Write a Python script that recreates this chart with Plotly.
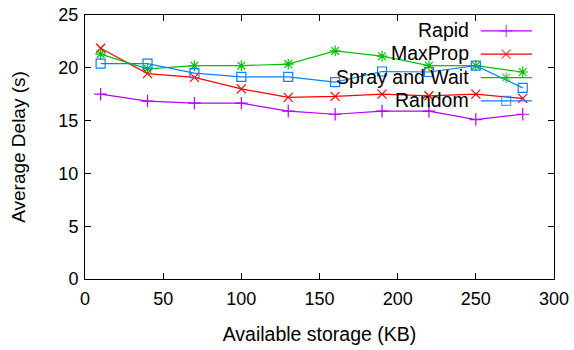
import plotly.graph_objects as go

# Available storage (KB) and average delay (s) for each routing protocol
storage = [10, 40, 70, 100, 130, 160, 190, 220, 250, 280]
rapid = [17.5, 16.85, 16.65, 16.65, 15.9, 15.6, 15.9, 15.9, 15.1, 15.6]
maxprop = [21.85, 19.45, 19.1, 18.0, 17.2, 17.3, 17.5, 17.35, 17.5, 17.1]
spray_wait = [21.3, 19.9, 20.2, 20.2, 20.35, 21.6, 21.1, 20.2, 20.2, 19.6]
random_ = [20.4, 20.4, 19.5, 19.15, 19.15, 18.65, 19.65, 19.6, 20.2, 18.1]

series = [
    ("Rapid", rapid, "#b400ff", "cross-thin-open"),
    ("MaxProp", maxprop, "#ff0000", "x-thin-open"),
    ("Spray and Wait", spray_wait, "#00c000", "asterisk-open"),
    ("Random", random_, "#0a80ff", "square-open"),
]

font_family = "Liberation Sans, Arial, sans-serif"
fig = go.Figure()

for name, vals, color, sym in series:
    fig.add_trace(go.Scatter(
        x=storage, y=vals, name=name, mode="lines+markers",
        line=dict(color=color, width=1.2),
        marker=dict(symbol=sym, size=9, color=color,
                    line=dict(color=color, width=1.2)),
        showlegend=False,
    ))

# Key in the upper right: label on the left, line sample with marker on the right
key_top = 0.94
key_step = 0.0885
for i, (name, vals, color, sym) in enumerate(series):
    yk = key_top - i * key_step
    fig.add_trace(go.Scatter(
        x=[0.844, 0.898, 0.953], y=[yk, yk, yk], mode="lines+markers",
        xaxis="x2", yaxis="y2",
        line=dict(color=color, width=1.2),
        marker=dict(symbol=sym, size=[0, 9, 0], color=color,
                    line=dict(color=color, width=1.2)),
        showlegend=False, hoverinfo="skip",
    ))
    fig.add_annotation(
        x=0.822, y=yk + 0.004, xref="x2", yref="y2", text=name, showarrow=False,
        xanchor="right", yanchor="middle",
        font=dict(family=font_family, size=19.5, color="#000000"),
    )

axis_common = dict(
    showgrid=False, zeroline=False, showline=True, linecolor="#000000",
    linewidth=1, mirror="ticks", ticks="inside", ticklen=6,
    tickcolor="#000000", tickwidth=1, automargin=False,
    tickfont=dict(family=font_family, size=18, color="#000000"),
)

fig.update_layout(
    width=574, height=350,
    margin=dict(l=85, r=20, t=15, b=71),
    paper_bgcolor="#ffffff", plot_bgcolor="#ffffff",
    xaxis=dict(range=[0, 300], dtick=50, ticklabelstandoff=3,
               title=dict(text="Available storage (KB)", standoff=19,
                          font=dict(family=font_family, size=19.5, color="#000000")),
               **axis_common),
    yaxis=dict(range=[0, 25], dtick=5, ticklabelstandoff=2,
               title=dict(text="Average Delay (s)", standoff=27,
                          font=dict(family=font_family, size=19, color="#000000")),
               **axis_common),
    xaxis2=dict(overlaying="x", range=[0, 1], visible=False, fixedrange=True),
    yaxis2=dict(overlaying="y", range=[0, 1], visible=False, fixedrange=True),
)

fig.write_html("out.html")
